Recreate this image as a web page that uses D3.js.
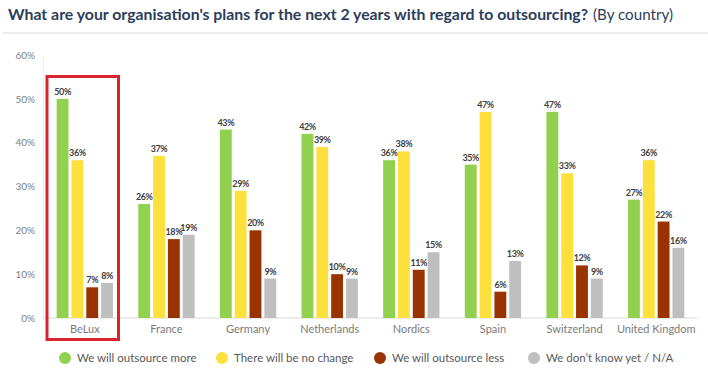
<!DOCTYPE html>
<html>
<head>
<meta charset="utf-8">
<script src="https://cdn.jsdelivr.net/npm/d3@7"></script>
<style>
  body { margin: 0; background: #fff; }
  svg { display: block; font-family: Lato, "Open Sans", sans-serif; }
</style>
</head>
<body>
<div class="chart"></div>
<script>
const WIDTH = 708;
const HEIGHT = 376;

const countries = ['BeLux', 'France', 'Germany', 'Netherlands', 'Nordics', 'Spain', 'Switzerland', 'United Kingdom'];
const seriesNames = ['We will outsource more', 'There will be no change', 'We will outsource less', 'We don\u2019t know yet / N/A'];
const outsourceMore = [50, 26, 43, 42, 36, 35, 47, 27];
const noChange = [36, 37, 29, 39, 38, 47, 33, 36];
const outsourceLess = [7, 18, 20, 10, 11, 6, 12, 22];
const dontKnow = [8, 19, 9, 9, 15, 13, 9, 16];
const yTicks = [0, 10, 20, 30, 40, 50, 60];
const colors = ['#92d050', '#fde03c', '#993300', '#bfbfbf'];

const seriesValues = [outsourceMore, noChange, outsourceLess, dontKnow];

var svg = d3.select('.chart').append('svg')
    .attr('width', WIDTH)
    .attr('height', HEIGHT);

// title
var title = svg.append('text')
    .attr('x', 8)
    .attr('y', 20)
    .attr('fill', '#2c3d5c')
    .style('font-size', '16px');
title.append('tspan')
    .attr('font-weight', 'bold')
    .attr('textLength', 580)
    .attr('lengthAdjust', 'spacingAndGlyphs')
    .text('What are your organisation\'s plans for the next 2 years with regard to outsourcing?');
title.append('tspan')
    .attr('x', 593)
    .attr('textLength', 80)
    .attr('lengthAdjust', 'spacingAndGlyphs')
    .text('(By country)');

svg.append('line')
    .attr('x1', 3).attr('x2', WIDTH)
    .attr('y1', 33).attr('y2', 33)
    .attr('stroke', '#d9d9d9')
    .attr('stroke-width', 1);

var xScale = d3.scaleBand().domain(countries).range([44, 697]).paddingInner(0.31).paddingOuter(0.155);
var subScale = d3.scaleBand().domain(d3.range(4)).range([0, xScale.bandwidth()]).paddingInner(0.2);
var yScale = d3.scaleLinear().domain([0, 60]).range([318, 55]);

// y axis
var yAxis = d3.axisLeft(yScale)
    .tickValues(yTicks)
    .tickSize(0)
    .tickPadding(8)
    .tickFormat(function (d) { return d + '%'; });

var yAxisG = svg.append('g')
    .attr('transform', 'translate(43,0)')
    .call(yAxis);
yAxisG.select('.domain').attr('stroke', '#eeeeee');
yAxisG.selectAll('text')
    .attr('fill', '#808080')
    .style('font-size', '10px')
    .style('font-family', 'Lato, sans-serif');

// baseline
svg.append('line')
    .attr('x1', 43).attr('x2', 697)
    .attr('y1', yScale(0)).attr('y2', yScale(0))
    .attr('stroke', '#d9d9d9');

// x axis labels
var xAxis = d3.axisBottom(xScale).tickSize(0).tickPadding(7);
var xAxisG = svg.append('g')
    .attr('transform', 'translate(0,' + yScale(0) + ')')
    .call(xAxis);
xAxisG.select('.domain').remove();
xAxisG.selectAll('text')
    .attr('fill', '#7a7a7a')
    .style('font-size', '11px')
    .style('font-family', 'Lato, sans-serif');

// bars
var groups = svg.selectAll('.country')
    .data(countries)
    .enter().append('g')
    .attr('transform', function (d) { return 'translate(' + xScale(d) + ',0)'; });

groups.each(function (c, ci) {
    var g = d3.select(this);
    seriesValues.forEach(function (vals, si) {
        var v = vals[ci];
        g.append('rect')
            .attr('x', subScale(si))
            .attr('y', yScale(v))
            .attr('width', subScale.bandwidth())
            .attr('height', yScale(0) - yScale(v))
            .attr('fill', colors[si]);
        g.append('text')
            .attr('x', subScale(si) + subScale.bandwidth() / 2)
            .attr('y', yScale(v) - 4)
            .attr('text-anchor', 'middle')
            .attr('fill', '#404040')
            .attr('font-weight', 'bold')
            .style('font-size', '9px')
            .style('letter-spacing', '-0.4px')
            .text(v + '%');
    });
});

// highlight box round BeLux
svg.append('rect')
    .attr('x', 47)
    .attr('y', 76.5)
    .attr('width', 71.5)
    .attr('height', 263)
    .attr('fill', 'none')
    .attr('stroke', '#d9232e')
    .attr('stroke-width', 3);

// legend
var legendX = [65, 222, 380, 534];
var legend = svg.selectAll('.legend')
    .data(seriesNames)
    .enter().append('g')
    .attr('transform', function (d, i) { return 'translate(' + legendX[i] + ',358)'; });
legend.append('circle')
    .attr('r', 6)
    .attr('fill', function (d, i) { return colors[i]; });
legend.append('text')
    .attr('x', 12)
    .attr('y', 4)
    .attr('fill', '#595959')
    .style('font-size', '11.5px')
    .text(function (d) { return d; });
</script>
</body>
</html>
